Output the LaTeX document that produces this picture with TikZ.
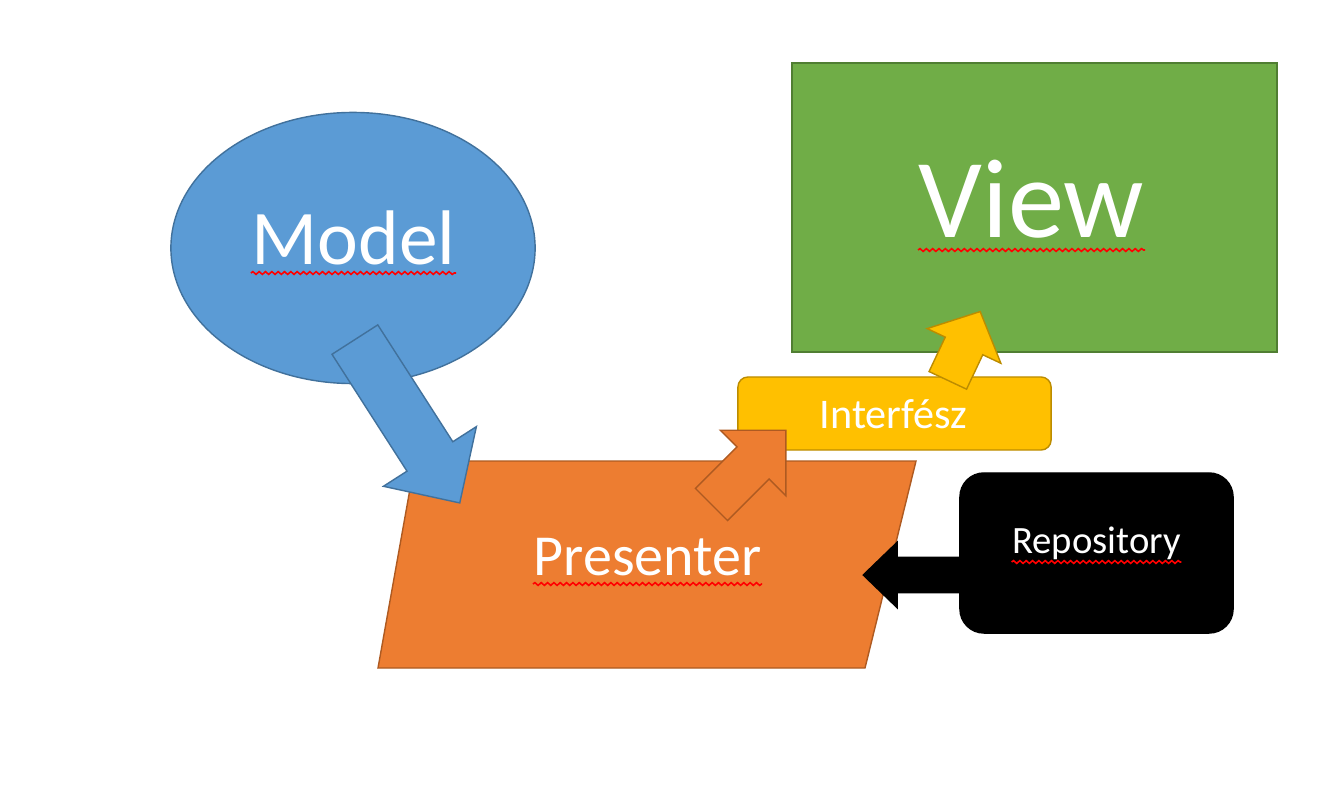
\documentclass[tikz,border=0pt]{standalone}
\usepackage{fontspec}
\setmainfont{Carlito}
\usetikzlibrary{shapes.geometric, shapes.arrows, decorations.pathmorphing, positioning}
\definecolor{modelblue}{HTML}{5B9BD5}
\definecolor{modeledge}{HTML}{41719C}
\definecolor{presorange}{HTML}{ED7D31}
\definecolor{presedge}{HTML}{AE5A21}
\definecolor{ifyellow}{HTML}{FFC000}
\definecolor{ifedge}{HTML}{BC8C00}
\definecolor{viewgreen}{HTML}{70AD47}
\definecolor{viewedge}{HTML}{507E32}

\begin{document}
\begin{tikzpicture}[
    x=0.01cm, y=-0.01cm,
    shapebox/.style={inner sep=0pt, line width=0.4pt},
    blockarrow/.style={single arrow, inner xsep=0pt, minimum width=0pt, single arrow head indent=0pt, line width=0.4pt},
    whitetext/.style={text=white, anchor=base, inner sep=0pt},
    spellmark/.style={draw=red, line width=0.45pt, decorate, decoration={snake, amplitude=0.4pt, segment length=1.8pt}}
]
    \useasboundingbox (0,0) rectangle (1340,785);

    % Shapes
    \node[shapebox, ellipse, draw=modeledge, fill=modelblue, minimum width=3.64cm, minimum height=2.71cm] (model) at (353,248) {};
    \node[shapebox, rectangle, draw=viewedge, fill=viewgreen, minimum width=4.85cm, minimum height=2.89cm] (view) at (1034.5,207.5) {};
    \node[shapebox, rectangle, rounded corners=0.1cm, draw=ifedge, fill=ifyellow, minimum width=3.13cm, minimum height=0.73cm] (interface) at (894.5,413.5) {};

    % Presenter (slanted box)
    \coordinate (p1) at (415,461);
    \coordinate (p2) at (916,461);
    \coordinate (p3) at (865,668);
    \coordinate (p4) at (378,668);
    \filldraw[draw=presedge, fill=presorange, line width=0.4pt] (p1) -- (p2) -- (p3) -- (p4) -- cycle;

    % Block arrows
    \node[blockarrow, draw=modeledge, fill=modelblue, inner ysep=0.265cm, single arrow head extend=0.28cm, minimum height=1.94cm, rotate=-57.3, anchor=tail] (modelarrow) at (354.5,339) {};
    \node[blockarrow, draw=presedge, fill=presorange, inner ysep=0.22cm, single arrow head extend=0.235cm, minimum height=1.05cm, rotate=45, anchor=tail] (presarrow) at (711,505) {};
    \node[blockarrow, draw=ifedge, fill=ifyellow, inner ysep=0.2cm, single arrow head extend=0.2cm, single arrow tip angle=94, minimum height=0.76cm, rotate=64.8, anchor=tail] (ifarrow) at (947.5,381) {};
    \node[blockarrow, draw=black, fill=black, inner ysep=0.17cm, single arrow head extend=0.15cm, single arrow tip angle=88, minimum height=0.98cm, rotate=180, anchor=tail] (repoarrow) at (962,575) {};

    % Repository
    \node[shapebox, rectangle, rounded corners=0.24cm, draw=black, fill=black, minimum width=2.73cm, minimum height=1.6cm] (repo) at (1096.5,553) {};

    % Labels
    \node[whitetext, font=\fontsize{22}{26}\selectfont] (modeltext) at (353.5,264) {Model};
    \node[whitetext, font=\fontsize{32}{38}\selectfont] (viewtext) at (1031.5,238) {View};
    \node[whitetext, font=\fontsize{16.5}{20}\selectfont] (prestext) at (647.5,575) {Presenter};
    \node[whitetext, font=\fontsize{12}{14}\selectfont] (iftext) at (893.5,428) {Interfész};
    \node[whitetext, font=\fontsize{11}{13}\selectfont] (repotext) at (1096.5,553) {Repository};

    % Spell-check marks
    \draw[spellmark] ([yshift=-0.09cm]modeltext.base west) -- ([yshift=-0.09cm]modeltext.base east);
    \draw[spellmark] ([yshift=-0.12cm]viewtext.base west) -- ([yshift=-0.12cm]viewtext.base east);
    \draw[spellmark] ([yshift=-0.09cm]prestext.base west) -- ([yshift=-0.09cm]prestext.base east);
    \draw[spellmark] ([yshift=-0.09cm]repotext.base west) -- ([yshift=-0.09cm]repotext.base east);
\end{tikzpicture}
\end{document}
